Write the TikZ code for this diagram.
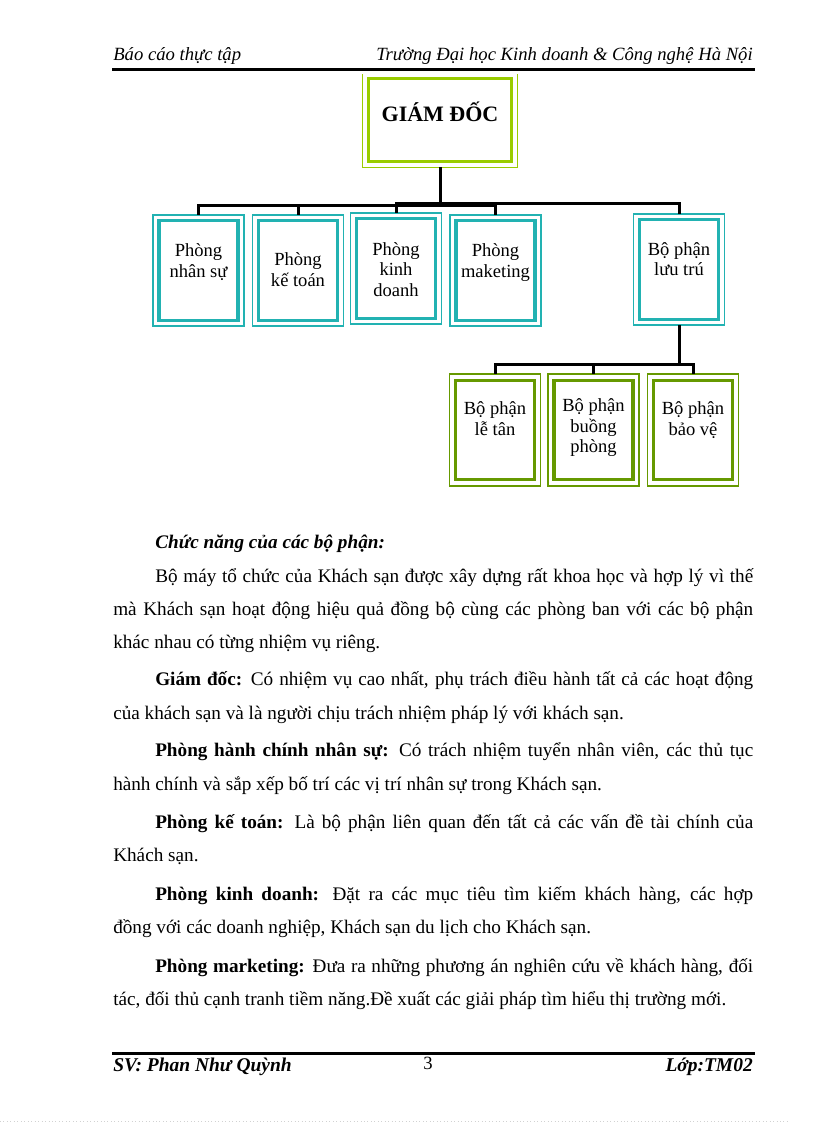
\documentclass[tikz,border=0pt]{standalone}
\usepackage{fontspec}
\setmainfont{Liberation Serif}
\usetikzlibrary{calc}
\definecolor{tealbox}{HTML}{22B2B2}
\definecolor{limebox}{HTML}{99CC00}
\definecolor{olivebox}{HTML}{669900}
\newcommand\boxfnt{\fontsize{13.9pt}{15.4pt}\selectfont}
\newcommand\gdfnt{\fontsize{16.5pt}{19pt}\selectfont\bfseries}
\newcommand\bodyfnt{\fontsize{14.4pt}{16pt}\selectfont}
\newcommand\hdrfnt{\fontsize{14pt}{16pt}\selectfont\itshape}
\newcommand\ftrfnt{\fontsize{14.6pt}{16pt}\selectfont\bfseries\itshape}
\newcommand\boxtxt[4]{\parbox[c][#3][t]{#2}{\centering\vspace*{#1}\rule{0pt}{1em}#4\par}}
\tikzset{
  orgbox/.style={draw=#1, line width=1.2pt, inner sep=0pt, outer sep=0pt, font=\boxfnt,
    path picture={\draw[#1, line width=2.6pt]
      ([shift={(4.5pt,-4.5pt)}]path picture bounding box.north west) rectangle
      ([shift={(-4.5pt,4.5pt)}]path picture bounding box.south east);}},
  conn/.style={line width=2.25pt, black},
  rulestyle/.style={line width=1.9pt, black},
  bl/.style={inner sep=0pt, anchor=base west, font=\bodyfnt},
  hdr/.style={inner sep=0pt, anchor=base west, font=\hdrfnt},
  ftr/.style={inner sep=0pt, anchor=base west, font=\ftrfnt},
}
\begin{document}
\begin{tikzpicture}[x=0.75pt,y=0.75pt]
\useasboundingbox (0,0) rectangle (816,-1123);
% header
\node[hdr] (h1) at (113,-61) {Báo cáo thực tập};
\node[hdr, anchor=base east] (h2) at (753,-61) {Trường Đại học Kinh doanh \& Công nghệ Hà Nội};
\draw[rulestyle] (112,-69.5) -- (755,-69.5);
% top box (clipped at its top)
\begin{scope}
\clip (0,-75) rectangle (816,-1123);
\node[orgbox=limebox] (gd) at (440,-119.8)
  {\parbox[c][71.3pt][t]{116pt}{\centering\vspace*{20.5pt}\gdfnt\rule{0pt}{1em}GIÁM ĐỐC\par}};
\end{scope}
% first level
\node[orgbox=tealbox] (ns) at (198.5,-270.5) {\boxtxt{17.7pt}{68pt}{83.6pt}{Phòng\\nhân sự}};
\node[orgbox=tealbox] (kt) at (298,-270.5) {\boxtxt{24.5pt}{68pt}{83.6pt}{Phòng\\kế toán}};
\node[orgbox=tealbox] (kd) at (396,-268.5) {\boxtxt{18pt}{68pt}{83.6pt}{Phòng\\kinh\\doanh}};
\node[orgbox=tealbox] (mk) at (495.5,-270.5) {\boxtxt{17.7pt}{68pt}{83.6pt}{Phòng\\maketing}};
\node[orgbox=tealbox] (lt) at (679,-269.5) {\boxtxt{17.2pt}{68pt}{83.6pt}{Bộ phận\\lưu trú}};
% second level
\node[orgbox=olivebox] (ltan) at (495,-430) {\boxtxt{16.5pt}{68pt}{83.6pt}{Bộ phận\\lễ tân}};
\node[orgbox=olivebox] (bp) at (593.5,-430) {\boxtxt{14pt}{68pt}{83.6pt}{Bộ phận\\buồng\\phòng}};
\node[orgbox=olivebox] (bv) at (693,-430) {\boxtxt{16.5pt}{68pt}{83.6pt}{Bộ phận\\bảo vệ}};
% connectors
\coordinate (busa) at (0,-206);
\coordinate (busb) at (0,-203.5);
\coordinate (busc) at (0,-364.7);
\draw[conn] (gd.south) -- (gd.south |- busa) -| (ns.north);
\draw[conn] (gd.south) -- (gd.south |- busa) -| (kt.north);
\draw[conn] (gd.south) -- (gd.south |- busb) -| (kd.north);
\draw[conn] (gd.south) -- (gd.south |- busa) -| (mk.north);
\draw[conn] (gd.south) -- (gd.south |- busb) -| (lt.north);
\draw[conn] (lt.south) -- (lt.south |- busc) -| (ltan.north);
\draw[conn] (lt.south) -- (lt.south |- busc) -| (bp.north);
\draw[conn] (lt.south) -- (lt.south |- busc) -| (bv.north);
% body text
\node[bl] (t0) at (155,-548) {\bfseries\itshape Chức năng của các bộ phận:};
\node[bl] (t1) at (155,-582) {\makebox[448.5pt][s]{Bộ máy tổ chức của Khách sạn được xây dựng rất khoa học và hợp lý vì thế}};
\node[bl] (t2) at (113,-615) {\makebox[480pt][s]{mà Khách sạn hoạt động hiệu quả đồng bộ cùng các phòng ban với các bộ phận}};
\node[bl] (t3) at (113,-648) {khác nhau có từng nhiệm vụ riêng.};
\node[bl] (t4) at (155,-685) {\makebox[448.5pt][s]{\textbf{Giám đốc:} Có nhiệm vụ cao nhất, phụ trách điều hành tất cả các hoạt động}};
\node[bl] (t5) at (113,-719) {của khách sạn và là người chịu trách nhiệm pháp lý với khách sạn.};
\node[bl] (t6) at (155,-756) {\makebox[448.5pt][s]{\textbf{Phòng hành chính nhân sự:} Có trách nhiệm tuyển nhân viên, các thủ tục}};
\node[bl] (t7) at (113,-790) {hành chính và sắp xếp bố trí các vị trí nhân sự trong Khách sạn.};
\node[bl] (t8) at (155,-828) {\makebox[448.5pt][s]{\textbf{Phòng kế toán:} Là bộ phận liên quan đến tất cả các vấn đề tài chính của}};
\node[bl] (t9) at (113,-861) {Khách sạn.};
\node[bl] (t10) at (155,-900) {\makebox[448.5pt][s]{\textbf{Phòng kinh doanh:} Đặt ra các mục tiêu tìm kiếm khách hàng, các hợp}};
\node[bl] (t11) at (113,-933) {đồng với các doanh nghiệp, Khách sạn du lịch cho Khách sạn.};
\node[bl] (t12) at (155,-972) {\makebox[448.5pt][s]{\textbf{Phòng marketing:} Đưa ra những phương án nghiên cứu về khách hàng, đối}};
\node[bl] (t13) at (113,-1005) {tác, đối thủ cạnh tranh tiềm năng.Đề xuất các giải pháp tìm hiểu thị trường mới.};
% footer
\draw[rulestyle] (112,-1053.5) -- (755,-1053.5);
\node[ftr] (f1) at (113,-1071) {SV: Phan Như Quỳnh};
\node[inner sep=0pt, anchor=base, font=\fontsize{14pt}{16pt}\selectfont] (f2) at (428,-1069) {3};
\node[ftr, anchor=base east] (f3) at (753,-1071) {Lớp:TM02};
\draw[gray!35, line width=0.6pt, dotted] (0,-1121.5) -- (790,-1121.5);
\end{tikzpicture}
\end{document}
